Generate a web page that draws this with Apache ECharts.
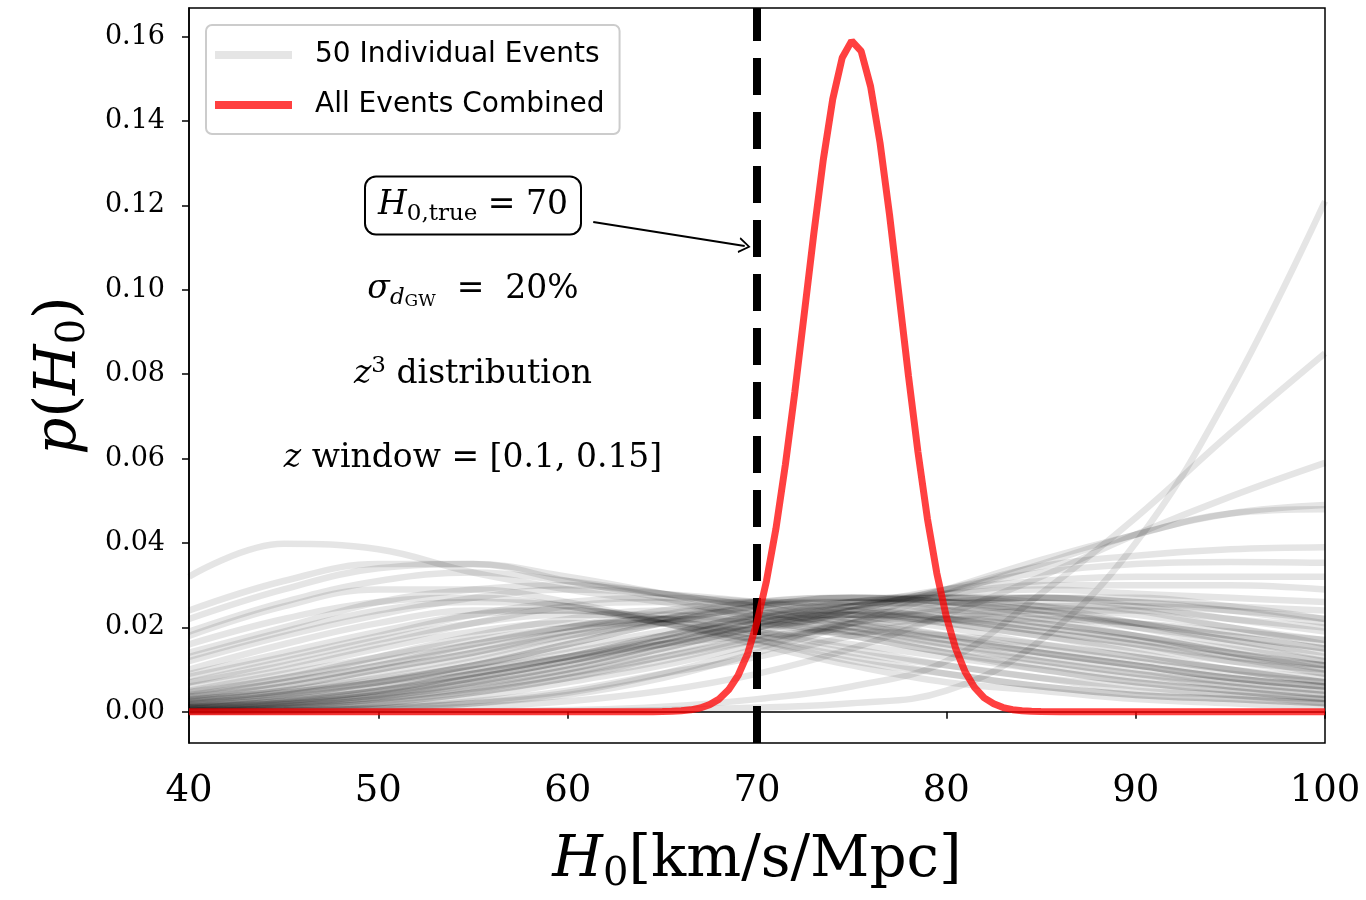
<!DOCTYPE html>
<html>
<head>
<meta charset="utf-8">
<script src="https://cdn.jsdelivr.net/npm/echarts@6/dist/echarts.min.js"></script>
<style>
  html, body { margin: 0; padding: 0; background: #fff; }
  #chart { width: 1366px; height: 900px; }
</style>
</head>
<body>
<div id="chart"></div>
<script>
var eventH0 = [40, 45, 50, 55, 60, 65, 70, 75, 80, 85, 90, 95, 100];

// events whose posterior peaks at low H0
var earlyPeak = [
  [0.032, 0.0398, 0.0385, 0.033, 0.029, 0.026, 0.023, 0.019, 0.015, 0.012, 0.009, 0.006, 0.004],
  [0.024, 0.031, 0.035, 0.035, 0.031, 0.027, 0.022, 0.018, 0.014, 0.010, 0.007, 0.005, 0.003],
  [0.022, 0.029, 0.034, 0.035, 0.032, 0.028, 0.024, 0.020, 0.016, 0.012, 0.009, 0.007, 0.005],
  [0.019, 0.026, 0.031, 0.033, 0.031, 0.028, 0.025, 0.021, 0.017, 0.014, 0.011, 0.008, 0.006],
  [0.014, 0.020, 0.026, 0.029, 0.030, 0.028, 0.025, 0.022, 0.018, 0.014, 0.011, 0.008, 0.006],
  [0.012, 0.018, 0.023, 0.027, 0.029, 0.028, 0.026, 0.023, 0.020, 0.016, 0.013, 0.010, 0.008],
  [0.0083, 0.013, 0.018, 0.023, 0.026, 0.027, 0.026, 0.024, 0.021, 0.018, 0.015, 0.012, 0.010],
  [0.0069, 0.011, 0.016, 0.021, 0.025, 0.026, 0.026, 0.025, 0.022, 0.019, 0.016, 0.013, 0.011],
  [0.016, 0.022, 0.026, 0.027, 0.025, 0.021, 0.017, 0.013, 0.009, 0.006, 0.004, 0.003, 0.002],
  [0.010, 0.016, 0.021, 0.024, 0.024, 0.022, 0.018, 0.014, 0.011, 0.008, 0.005, 0.004, 0.002],
  [0.006, 0.010, 0.015, 0.019, 0.021, 0.021, 0.019, 0.016, 0.013, 0.010, 0.007, 0.005, 0.003],
  [0.005, 0.009, 0.013, 0.017, 0.020, 0.022, 0.021, 0.019, 0.016, 0.013, 0.010, 0.007, 0.005],
  [0.018, 0.025, 0.029, 0.029, 0.026, 0.021, 0.016, 0.011, 0.007, 0.005, 0.003, 0.002, 0.001],
  [0.013, 0.019, 0.024, 0.026, 0.025, 0.021, 0.017, 0.012, 0.009, 0.006, 0.004, 0.003, 0.002],
  [0.009, 0.014, 0.019, 0.023, 0.024, 0.022, 0.019, 0.015, 0.011, 0.008, 0.006, 0.004, 0.003],
  [0.007, 0.012, 0.017, 0.021, 0.023, 0.023, 0.021, 0.018, 0.014, 0.011, 0.008, 0.006, 0.004],
  [0.0035, 0.007, 0.011, 0.016, 0.020, 0.022, 0.022, 0.020, 0.017, 0.014, 0.011, 0.008, 0.006],
  [0.0045, 0.008, 0.013, 0.018, 0.022, 0.024, 0.023, 0.021, 0.018, 0.015, 0.012, 0.009, 0.007]
];

// events peaking around 65-80
var midPeak = [
  [0.0028, 0.005, 0.008, 0.012, 0.017, 0.022, 0.026, 0.027, 0.026, 0.024, 0.021, 0.018, 0.015],
  [0.0024, 0.0045, 0.0075, 0.011, 0.016, 0.021, 0.025, 0.027, 0.027, 0.025, 0.021, 0.017, 0.014],
  [0.0036, 0.006, 0.010, 0.014, 0.019, 0.023, 0.026, 0.027, 0.026, 0.023, 0.020, 0.017, 0.013],
  [0.0047, 0.008, 0.012, 0.016, 0.020, 0.024, 0.026, 0.026, 0.024, 0.021, 0.018, 0.015, 0.012],
  [0.001, 0.002, 0.004, 0.007, 0.011, 0.016, 0.021, 0.025, 0.027, 0.027, 0.025, 0.022, 0.019],
  [0.0015, 0.003, 0.005, 0.009, 0.013, 0.018, 0.023, 0.026, 0.027, 0.026, 0.024, 0.020, 0.017],
  [0.002, 0.004, 0.007, 0.011, 0.016, 0.021, 0.025, 0.027, 0.026, 0.024, 0.020, 0.016, 0.012],
  [0.003, 0.005, 0.009, 0.013, 0.018, 0.022, 0.025, 0.026, 0.025, 0.022, 0.018, 0.014, 0.010],
  [0.0012, 0.0025, 0.005, 0.008, 0.012, 0.017, 0.022, 0.025, 0.026, 0.025, 0.023, 0.020, 0.016],
  [0.0008, 0.0018, 0.0035, 0.0065, 0.010, 0.015, 0.020, 0.024, 0.026, 0.027, 0.026, 0.024, 0.021],
  [0.004, 0.007, 0.011, 0.015, 0.019, 0.022, 0.024, 0.024, 0.022, 0.019, 0.016, 0.012, 0.009],
  [0.0018, 0.0035, 0.006, 0.010, 0.014, 0.018, 0.021, 0.023, 0.023, 0.021, 0.018, 0.014, 0.011],
  [0.0006, 0.0014, 0.003, 0.0055, 0.009, 0.013, 0.017, 0.020, 0.022, 0.022, 0.021, 0.019, 0.017],
  [0.0025, 0.0045, 0.007, 0.010, 0.013, 0.016, 0.018, 0.019, 0.018, 0.016, 0.013, 0.010, 0.007],
  [0.002, 0.004, 0.007, 0.011, 0.015, 0.019, 0.022, 0.023, 0.022, 0.020, 0.017, 0.013, 0.009],
  [0.0015, 0.003, 0.006, 0.009, 0.013, 0.017, 0.020, 0.022, 0.022, 0.020, 0.017, 0.014, 0.011],
  [0.001, 0.0022, 0.0045, 0.008, 0.012, 0.016, 0.020, 0.023, 0.024, 0.023, 0.021, 0.018, 0.015],
  [0.003, 0.006, 0.010, 0.014, 0.018, 0.021, 0.023, 0.023, 0.021, 0.018, 0.014, 0.010, 0.007]
];

// events peaking near the upper edge
var latePeak = [
  [0.0003, 0.0008, 0.002, 0.0045, 0.008, 0.013, 0.018, 0.024, 0.029, 0.0345, 0.037, 0.0385, 0.039],
  [0.0004, 0.001, 0.0025, 0.005, 0.009, 0.014, 0.019, 0.024, 0.029, 0.033, 0.035, 0.0355, 0.0353],
  [0.0005, 0.0013, 0.003, 0.006, 0.010, 0.015, 0.020, 0.025, 0.029, 0.031, 0.032, 0.032, 0.032],
  [0.0007, 0.0017, 0.0035, 0.007, 0.011, 0.016, 0.021, 0.025, 0.028, 0.030, 0.030, 0.030, 0.029],
  [0.001, 0.002, 0.004, 0.008, 0.012, 0.017, 0.022, 0.026, 0.028, 0.029, 0.028, 0.027, 0.026],
  [0.0012, 0.0025, 0.005, 0.009, 0.013, 0.018, 0.023, 0.026, 0.027, 0.027, 0.026, 0.025, 0.024],
  [0.0002, 0.0006, 0.0015, 0.0035, 0.007, 0.011, 0.016, 0.021, 0.025, 0.027, 0.027, 0.025, 0.022],
  [0.0001, 0.0004, 0.001, 0.0025, 0.005, 0.009, 0.013, 0.018, 0.022, 0.024, 0.024, 0.022, 0.020],
  [0.0003, 0.0009, 0.002, 0.0045, 0.008, 0.012, 0.017, 0.021, 0.024, 0.025, 0.025, 0.024, 0.022]
];

// events still rising at H0 = 100
var rising = [
  [0, 0, 0, 0, 0.0001, 0.0004, 0.001, 0.002, 0.005, 0.017, 0.040, 0.076, 0.121],
  [0, 0, 0, 0.0001, 0.0004, 0.0012, 0.003, 0.006, 0.012, 0.028, 0.046, 0.066, 0.085],
  [0, 0.0002, 0.0005, 0.0012, 0.0025, 0.005, 0.009, 0.015, 0.023, 0.032, 0.042, 0.051, 0.059],
  [0.0001, 0.0003, 0.0008, 0.002, 0.004, 0.008, 0.014, 0.021, 0.028, 0.035, 0.042, 0.047, 0.049],
  [0.0001, 0.0003, 0.0008, 0.002, 0.0045, 0.009, 0.015, 0.022, 0.029, 0.036, 0.042, 0.047, 0.048]
];

// combined posterior
var combinedH0 = [40, 64, 64.5, 65, 65.5, 66, 66.5, 67, 67.5, 68, 68.5, 69, 69.5, 70, 70.5, 71, 71.5,
  72, 72.5, 73, 73.5, 74, 74.5, 75, 75.5, 76, 76.5, 77, 77.5, 78, 78.5, 79, 79.5, 80, 80.5, 81, 81.5,
  82, 82.5, 83, 83.5, 84, 84.5, 85, 86, 100];
var combinedP = [0, 0.00001, 0.00002, 0.00005, 0.0001, 0.00023, 0.00046, 0.0009, 0.0017, 0.003, 0.0052,
  0.0086, 0.0137, 0.0212, 0.031, 0.0434, 0.0586, 0.0758, 0.0945, 0.1133, 0.1308, 0.1452, 0.155, 0.159,
  0.1566, 0.1482, 0.1348, 0.1178, 0.0988, 0.0796, 0.0616, 0.0458, 0.0328, 0.0225, 0.0149, 0.0094,
  0.0057, 0.0033, 0.0019, 0.001, 0.0005, 0.00025, 0.0001, 0.00005, 0.00001, 0];

var trueH0 = 70;
var xRange = [40, 100];
var yRange = [-0.0074, 0.1668];
var yTicks = [0, 0.02, 0.04, 0.06, 0.08, 0.10, 0.12, 0.14, 0.16];

// annotation text anchors (data coords)
var noteX = 55;
var noteY = [0.12, 0.10, 0.08, 0.06];
var arrowFrom = [61.35, 0.1161];
var arrowTo = [69.35, 0.1104];

var serif = 'DejaVu Serif';
var gray = 'rgba(0,0,0,0.1)';
var red = 'rgba(255,0,0,0.75)';

var chart = echarts.init(document.getElementById('chart'));

var series = [];
[earlyPeak, midPeak, latePeak, rising].forEach(function (group) {
  group.forEach(function (curve) {
    series.push({
      name: '50 Individual Events',
      type: 'line',
      data: eventH0.map(function (x, i) { return [x, curve[i]]; }),
      smooth: 0.4,
      showSymbol: false,
      silent: true,
      color: gray,
      lineStyle: { color: gray, width: 6.5 },
      emphasis: { disabled: true },
      z: 2
    });
  });
});

// dashed line at the true value (drawn bottom -> top like axvline)
series.push({
  type: 'line',
  data: [[trueH0, yRange[0]], [trueH0, yRange[1]]],
  showSymbol: false,
  silent: true,
  lineStyle: { color: '#000', width: 8, type: [37, 17] },
  emphasis: { disabled: true },
  z: 3
});

series.push({
  name: 'All Events Combined',
  type: 'line',
  data: combinedH0.map(function (x, i) { return [x, combinedP[i]]; }),
  showSymbol: false,
  silent: true,
  color: red,
  lineStyle: { color: red, width: 7 },
  emphasis: { disabled: true },
  z: 4
});

var rich = {
  t: { fontFamily: serif, fontSize: 33, color: '#000', lineHeight: 40 },
  i: { fontFamily: serif, fontStyle: 'italic', fontSize: 33, color: '#000', lineHeight: 40 },
  sub: { fontFamily: serif, fontSize: 23, color: '#000', lineHeight: 20, verticalAlign: 'bottom' },
  si: { fontFamily: serif, fontStyle: 'italic', fontSize: 23, color: '#000', lineHeight: 20, verticalAlign: 'bottom' },
  ss: { fontFamily: serif, fontSize: 17, color: '#000', lineHeight: 10, verticalAlign: 'bottom' },
  sup: { fontFamily: serif, fontSize: 23, color: '#000', lineHeight: 18, verticalAlign: 'top' }
};
var noteText = [
  '{i|H}{sub|0,true}{t| = 70}',
  '{i|σ}{si|d}{ss|GW}{t|  =  20%}',
  '{i|z}{sup|3}{t| distribution}',
  '{i|z}{t| window = [0.1, 0.15]}'
];

series.push({
  type: 'scatter',
  symbolSize: 0,
  silent: true,
  z: 5,
  itemStyle: { opacity: 1 },
  data: noteY.map(function (y, i) {
    var lab = { show: true, position: 'inside', formatter: noteText[i], rich: rich, color: '#000' };
    if (i === 0) {
      lab.borderColor = '#000';
      lab.borderWidth = 2;
      lab.borderRadius = 10;
      lab.padding = [8, 12, 8, 12];
      lab.backgroundColor = '#fff';
    }
    return { value: [noteX, y], label: lab };
  }),
  markLine: {
    silent: true,
    animation: false,
    symbol: ['none', 'path://M0,10 L5,0 L10,10 L8.8,10.5 L5,2.6 L1.2,10.5 Z'],
    symbolSize: [16, 12],
    lineStyle: { color: '#000', width: 2, type: 'solid', opacity: 1 },
    itemStyle: { color: '#000', opacity: 1 },
    label: { show: false },
    data: [[{ coord: arrowFrom }, { coord: arrowTo }]]
  }
});

var axisNameRich = {
  t: { fontFamily: serif, fontSize: 58, color: '#000', lineHeight: 68 },
  i: { fontFamily: serif, fontStyle: 'italic', fontSize: 58, color: '#000', lineHeight: 68 },
  sub: { fontFamily: serif, fontSize: 40, color: '#000', lineHeight: 36, verticalAlign: 'bottom' }
};

var option = {
  animation: false,
  backgroundColor: '#fff',
  grid: {
    left: 189, right: 41, top: 8, bottom: 157,
    containLabel: false,
    outerBoundsMode: 'none',
    show: true, borderColor: '#000', borderWidth: 1.5, backgroundColor: 'transparent'
  },
  legend: {
    data: ['50 Individual Events', 'All Events Combined'],
    orient: 'vertical',
    left: 206, top: 25,
    icon: 'rect',
    itemWidth: 77, itemHeight: 8, itemGap: 20,
    padding: [15, 15, 14, 9],
    backgroundColor: 'rgba(255,255,255,0.8)',
    borderColor: '#cccccc', borderWidth: 2, borderRadius: 6,
    selectedMode: false,
    textStyle: { fontFamily: 'DejaVu Sans', fontSize: 28, color: '#000', padding: [0, 0, 0, 18], lineHeight: 30 }
  },
  xAxis: {
    type: 'value',
    min: xRange[0], max: xRange[1], interval: 10,
    name: '{i|H}{sub|0}{t|[km/s/Mpc]}',
    nameLocation: 'middle', nameGap: 84,
    nameTextStyle: { rich: axisNameRich },
    axisLine: { show: true, lineStyle: { color: '#000', width: 1.5 } },
    axisTick: { show: true, inside: false, length: 7, lineStyle: { color: '#000', width: 1.5 } },
    axisLabel: { fontFamily: serif, fontSize: 37, color: '#000', margin: 30 },
    splitLine: { show: false }
  },
  yAxis: {
    type: 'value',
    min: yRange[0], max: yRange[1],
    name: '{i|p}{t|(}{i|H}{sub|0}{t|)}',
    nameLocation: 'middle', nameGap: 78, nameRotate: 90,
    nameTextStyle: { rich: axisNameRich },
    axisLine: { show: true, lineStyle: { color: '#000', width: 1.5 } },
    axisTick: { show: true, inside: false, length: 7, customValues: yTicks, lineStyle: { color: '#000', width: 1.5 } },
    axisLabel: {
      fontFamily: serif, fontSize: 27, color: '#000', margin: 24, customValues: yTicks,
      formatter: function (v) { return v.toFixed(2); }
    },
    splitLine: { show: false }
  },
  series: series
};

chart.setOption(option);
</script>
</body>
</html>
